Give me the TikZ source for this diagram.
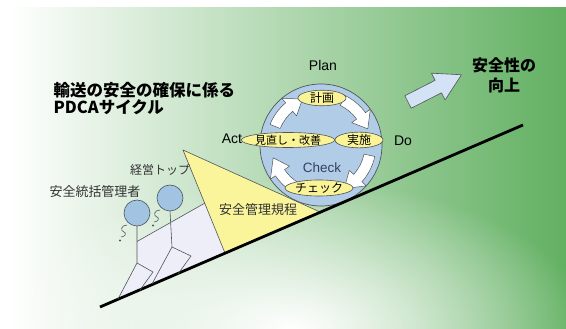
\documentclass[tikz,border=0pt]{standalone}
\usepackage{fontspec}
\setmainfont{Noto Sans CJK JP}
\newfontfamily\latin{Liberation Sans}
\usetikzlibrary{positioning, shapes.geometric, calc, fadings}

\definecolor{bggreen}{RGB}{98,176,98}
\definecolor{bgmid}{RGB}{205,232,205}
\definecolor{cycblue}{RGB}{176,204,230}
\definecolor{stageyellow}{RGB}{250,244,150}
\definecolor{ruleyellow}{RGB}{250,245,155}
\definecolor{plankgray}{RGB}{238,238,248}
\definecolor{headblue}{RGB}{160,196,226}
\definecolor{upblue}{RGB}{212,226,246}
\definecolor{linegray}{RGB}{80,84,90}
\definecolor{checkslate}{RGB}{55,65,95}

\tikzfading[name=softglow, inner color=transparent!0, outer color=transparent!100]

% one white curved arrow of the cycle: tail angle, head base angle, tip angle
\newcommand{\cycarrow}[3]{%
  \draw[cycarrow] ($(cyc)+(#1:55)$) arc[start angle=#1, end angle=#2, radius=55]
    -- ($(cyc)+(#2:61)$) -- ($(cyc)+(#3:49.5)$) -- ($(cyc)+(#2:38)$)
    -- ($(cyc)+(#2:44)$) arc[start angle=#2, end angle=#1, radius=44] -- cycle;}

\begin{document}
\begin{tikzpicture}[x=1pt, y=1pt,
    stage/.style={ellipse, draw=linegray, fill=stageyellow, line width=0.6pt,
      inner sep=0pt, minimum width=48, minimum height=15,
      font=\fontsize{12}{13}\selectfont},
    phase/.style={font=\latin\fontsize{14}{15}\selectfont},
    cycarrow/.style={draw=linegray, fill=white, line width=0.5pt, line join=round},
    person/.style={draw=linegray, line width=0.6pt},
    head/.style={circle, draw=linegray, fill=headblue, line width=0.6pt,
      minimum size=26, inner sep=0pt},
    caption/.style={font=\fontsize{13}{14}\selectfont, text=black!80}]

    \useasboundingbox (0,0) rectangle (566,329);
    % Background
    \fill[left color=white, middle color=bgmid, right color=bggreen] (9,0) rectangle (566,321);
    \begin{scope}
      \clip (9,0) rectangle (566,321);
      \fill[white, path fading=softglow] (290,0) ellipse [x radius=300, y radius=150];
    \end{scope}

    % Titles
    \node[anchor=west, align=left, font=\bfseries\fontsize{16.5}{17}\selectfont] (title)
      at (50,230) {輸送の安全の確保に係る\\PDCAサイクル};
    \node[align=center, font=\bfseries\fontsize{16}{20}\selectfont] (goal)
      at (504,254) {安全性の\\向上};

    % Upward arrow
    \begin{scope}[shift={(408,227)}, rotate=27]
      \draw[draw=linegray, fill=upblue, line width=0.6pt, line join=round]
        (0,-7) -- (34,-7) -- (34,-15) -- (60,0) -- (34,15) -- (34,7) -- (0,7) -- cycle;
    \end{scope}

    % Slope
    \coordinate (low) at (100,22);
    \coordinate (high) at (523,204);

    % Rule wedge and the plank pushed by the two persons
    \fill[plankgray] (137,87.5) -- (205,126) -- (225,76) -- (118,30) -- (137,66) -- cycle;
    \draw[draw=linegray, fill=ruleyellow, line width=0.6pt, line join=round]
      (183,179) -- (320,117) -- (225,76) -- cycle;
    \node[caption] (rule) at (258,119) {安全管理規程};

    % PDCA cycle
    \node[circle, draw=linegray, fill=cycblue, line width=0.7pt, minimum size=122,
      inner sep=0pt] (cyc) at (321,184) {};
    \cycarrow{64}{36}{19}
    \cycarrow{-12}{-42}{-62}
    \cycarrow{-122}{-146}{-165}
    \cycarrow{158}{130}{112}
    \node[stage] (plan) at (322,231) {計画};
    \node[stage] (do) at (359,189) {実施};
    \node[stage, minimum width=56, font=\fontsize{11}{12}\selectfont] (act) at (288,189) {見直し・改善};
    \node[stage, minimum height=16] (check) at (319,141) {チェック};
    \node[phase] (planlbl) at (323,263) {Plan};
    \node[phase] (dolbl) at (403,188) {Do};
    \node[phase] (actlbl) at (232,190) {Act};
    \node[phase, font=\latin\fontsize{13.5}{14}\selectfont, text=checkslate] (checklbl)
      at (322,161) {Check};

    \draw[line width=2.8pt] (low) -- (high);

    % Persons
    \draw[person] (137,103) -- (137,66) -- (118,30);
    \draw[person] (137,66) -- (153,57) -- (140,39);
    \draw[person] (137,87.5) -- (205,126);
    \draw[person] (170,118) -- (172,82) -- (152,45);
    \draw[person] (172,82) -- (191,73) -- (178,55);
    \node[head] (headA) at (137,116) {};
    \node[head] (headB) at (170,131) {};
    % little hooks beside the heads
    \draw[person] (127,104) .. controls (121,104) and (120,98) .. (124,97)
      .. controls (127,96) and (125,92) .. (121,92);
    \fill[linegray] (120,88.5) circle (1.2);
    \draw[person] (160,119) .. controls (154,119) and (153,113) .. (157,112)
      .. controls (160,111) and (158,107) .. (154,107);
    \fill[linegray] (153,103.5) circle (1.2);
    \node[caption] (manager) at (95,137) {安全統括管理者};
    \node[caption, font=\fontsize{12}{13}\selectfont] (top) at (160,159) {経営トップ};
\end{tikzpicture}
\end{document}
